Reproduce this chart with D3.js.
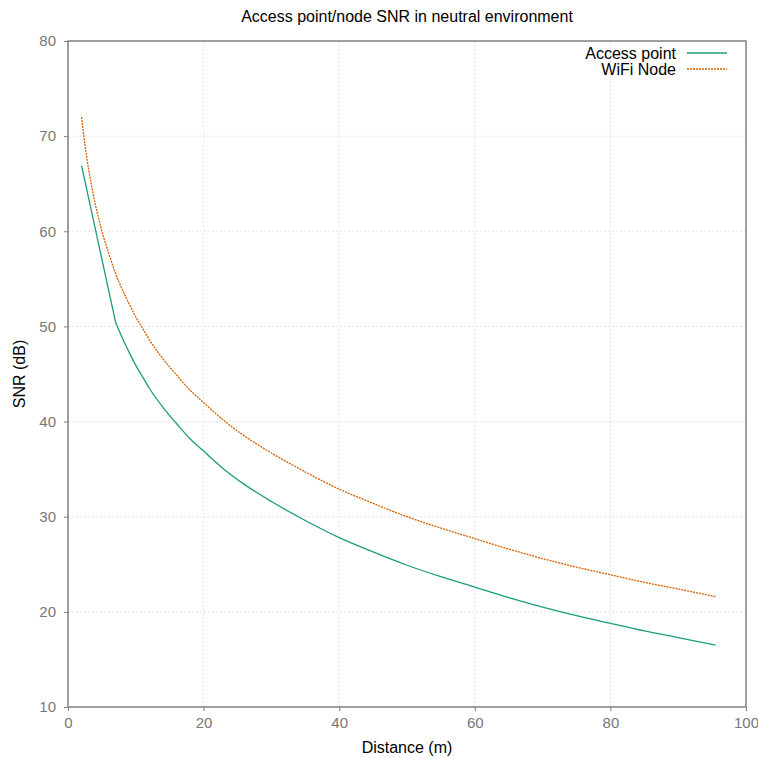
<!DOCTYPE html>
<html>
<head>
<meta charset="utf-8">
<script src="https://cdn.jsdelivr.net/npm/d3@7"></script>
<style>
  body { margin: 0; background: #fff; }
  text { font-family: "Liberation Sans", Arial, sans-serif; }
</style>
</head>
<body>
<div id="chart"></div>
<script>
// values
const apDistance = [2, 7, 8, 9, 10, 11, 12, 14, 16, 18, 20, 23, 26, 30, 35, 40, 45, 50, 55, 60, 65, 70, 75, 80, 85, 90, 95.5];
const apSnr = [66.9, 50.5, 48.8, 47.3, 45.9, 44.7, 43.5, 41.5, 39.8, 38.2, 36.9, 35.0, 33.4, 31.6, 29.6, 27.8, 26.3, 24.9, 23.7, 22.6, 21.5, 20.5, 19.6, 18.8, 18.0, 17.3, 16.5];

const nodeDistance = [2, 2.5, 3, 3.5, 4, 4.5, 5, 6, 7, 8, 9, 10, 11, 12, 14, 16, 18, 20, 23, 26, 30, 35, 40, 45, 50, 55, 60, 65, 70, 75, 80, 85, 90, 95.5];
const nodeSnr = [72.0, 69.1, 66.7, 64.7, 62.9, 61.4, 60.0, 57.7, 55.6, 53.9, 52.4, 51.0, 49.8, 48.6, 46.6, 44.9, 43.3, 42.0, 40.1, 38.5, 36.7, 34.7, 32.9, 31.4, 30.0, 28.8, 27.7, 26.6, 25.6, 24.7, 23.9, 23.1, 22.4, 21.6];

const xTicks = [0, 20, 40, 60, 80, 100];
const yTicks = [10, 20, 30, 40, 50, 60, 70, 80];

const seriesNames = ["Access point", "WiFi Node"];
const seriesColors = ["#1b9e77", "#d95f02"];

const width = 758, height = 758;
const margin = {top: 41, right: 12, bottom: 51, left: 68};
const w = width - margin.left - margin.right;
const h = height - margin.top - margin.bottom;

const svg = d3.select("#chart").append("svg")
    .attr("width", width)
    .attr("height", height);

const g = svg.append("g")
    .attr("transform", `translate(${margin.left},${margin.top})`);

const x = d3.scaleLinear().domain([0, 100]).range([0, w]);
const y = d3.scaleLinear().domain([10, 80]).range([h, 0]);

// grid
g.append("g").selectAll("line")
    .data(xTicks.slice(1, -1))
    .join("line")
    .attr("x1", d => x(d)).attr("x2", d => x(d))
    .attr("y1", 0).attr("y2", h)
    .attr("stroke", "#e4e4e4")
    .attr("stroke-dasharray", "2,2");

g.append("g").selectAll("line")
    .data(yTicks.slice(1, -1))
    .join("line")
    .attr("x1", 0).attr("x2", w)
    .attr("y1", d => y(d)).attr("y2", d => y(d))
    .attr("stroke", "#e4e4e4")
    .attr("stroke-dasharray", "2,2");

// axes
const xAxis = d3.axisBottom(x).tickValues(xTicks).tickSize(4).tickPadding(6);
const yAxis = d3.axisLeft(y).tickValues(yTicks).tickSize(4).tickPadding(8);

g.append("g")
    .attr("transform", `translate(0,${h})`)
    .call(xAxis)
    .call(a => a.select(".domain").remove());

g.append("g")
    .call(yAxis)
    .call(a => a.select(".domain").remove());

g.selectAll(".tick line").attr("stroke", "#808080");
g.selectAll(".tick text")
    .attr("fill", "#777")
    .style("font-size", "15px");

// plot frame
g.append("rect")
    .attr("x", 0).attr("y", 0)
    .attr("width", w).attr("height", h)
    .attr("fill", "none")
    .attr("stroke", "#808080")
    .attr("stroke-width", 1.5);

// lines
const apData = apDistance.map((d, i) => [d, apSnr[i]]);
const nodeData = nodeDistance.map((d, i) => [d, nodeSnr[i]]);

const straight = d3.line().x(d => x(d[0])).y(d => y(d[1]));
const smooth = d3.line().curve(d3.curveMonotoneX).x(d => x(d[0])).y(d => y(d[1]));

// access point: straight first segment, smooth after the kink
g.append("path")
    .datum(apData)
    .attr("fill", "none")
    .attr("stroke", seriesColors[0])
    .attr("stroke-width", 1.3)
    .attr("d", d => straight(d.slice(0, 2)) + smooth(d.slice(1)).replace(/^M/, "L"));

g.append("path")
    .datum(nodeData)
    .attr("fill", "none")
    .attr("stroke", seriesColors[1])
    .attr("stroke-width", 1.3)
    .attr("stroke-dasharray", "2,1")
    .attr("d", smooth);

// legend
const legend = g.append("g").attr("transform", `translate(${w - 70},12)`);
seriesNames.forEach((name, i) => {
    legend.append("text")
        .attr("x", 0)
        .attr("y", i * 16)
        .attr("dy", "0.35em")
        .attr("text-anchor", "end")
        .style("font-size", "16px")
        .text(name);
    legend.append("line")
        .attr("x1", 11).attr("x2", 51)
        .attr("y1", i * 16).attr("y2", i * 16)
        .attr("stroke", seriesColors[i])
        .attr("stroke-width", 1.3)
        .attr("stroke-dasharray", i === 1 ? "2,1" : null);
});

// titles
svg.append("text")
    .attr("x", margin.left + w / 2)
    .attr("y", 22)
    .attr("text-anchor", "middle")
    .style("font-size", "16px")
    .text("Access point/node SNR in neutral environment");

svg.append("text")
    .attr("x", margin.left + w / 2)
    .attr("y", 753)
    .attr("text-anchor", "middle")
    .style("font-size", "16px")
    .text("Distance (m)");

svg.append("text")
    .attr("transform", `translate(25,${margin.top + h / 2}) rotate(-90)`)
    .attr("text-anchor", "middle")
    .style("font-size", "16px")
    .text("SNR (dB)");
</script>
</body>
</html>
